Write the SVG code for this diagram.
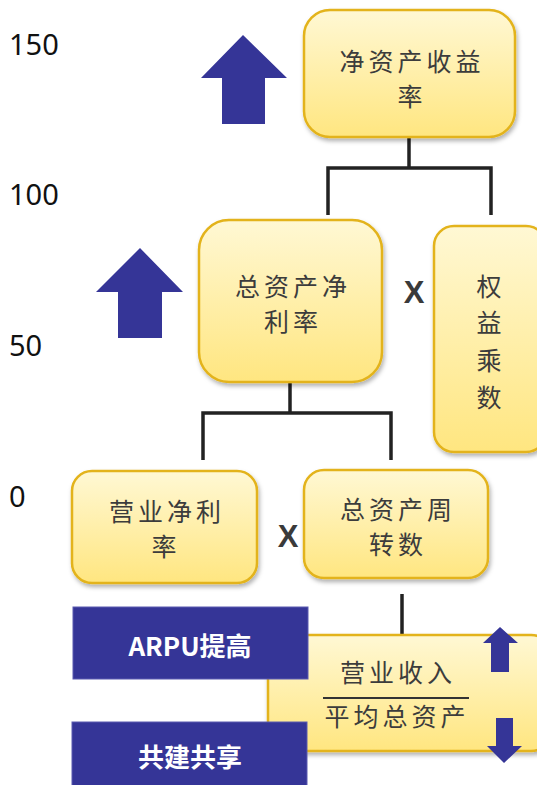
<svg xmlns="http://www.w3.org/2000/svg" width="537" height="785" viewBox="0 0 537 785">
<defs>
<linearGradient id="yg" x1="0" y1="0" x2="0" y2="1">
<stop offset="0" stop-color="#FFF8D4"/>
<stop offset="1" stop-color="#FFE680"/>
</linearGradient>
<filter id="sh" x="-10%" y="-10%" width="125%" height="125%">
<feDropShadow dx="1.5" dy="3" stdDeviation="2" flood-color="#000" flood-opacity="0.3"/>
</filter>
<style>
.node{fill:url(#yg);stroke:#E3B31A;stroke-width:2.5;filter:url(#sh)}
.t{font-family:"Noto Sans CJK SC","Noto Sans",sans-serif;font-size:25px;fill:#3C3C3C;text-anchor:middle;letter-spacing:4px}
.ax{font-family:"Noto Sans","Open Sans",sans-serif;font-size:29px;fill:#111}
.x{font-family:"Liberation Sans",Arial,sans-serif;font-size:31px;font-weight:bold;fill:#3A3A3A;text-anchor:middle}
.blue{fill:#353597;stroke:#5A5AB0;stroke-width:1}
.bt{font-family:"Noto Sans CJK SC","Noto Sans",sans-serif;font-size:26px;font-weight:bold;fill:#fff;text-anchor:middle}
.arr{fill:#353597}
.con{fill:none;stroke:#222;stroke-width:3.5}
</style>
</defs>
<rect width="537" height="785" fill="#fff"/>
<g id="axis">
<text class="ax" x="9" y="55">150</text>
<text class="ax" x="9" y="205">100</text>
<text class="ax" x="9" y="356">50</text>
<text class="ax" x="9" y="507">0</text>
</g>
<g id="connectors">
<polyline class="con" points="409,138 409,168"/>
<polyline class="con" points="328,215 328,168 491,168 491,215"/>
<polyline class="con" points="290,382 290,413"/>
<polyline class="con" points="203,460 203,413 391,413 391,460"/>
<polyline class="con" points="402,594 402,635"/>
</g>
<g id="arrows">
<polygon class="arr" points="243,35 287,78 265,78 265,124 222,124 222,78 201,78"/>
<polygon class="arr" points="140,248 183,292 162,292 162,338 118,338 118,292 96,292"/>
</g>
<g id="n-roe">
<rect class="node" x="304" y="10" width="211" height="127" rx="26"/>
<text class="t" x="412" y="71">净资产收益</text>
<text class="t" x="412" y="106">率</text>
</g>
<g id="n-roa">
<rect class="node" x="199" y="220" width="183" height="162" rx="30"/>
<text class="t" x="293" y="296">总资产净</text>
<text class="t" x="293" y="331">利率</text>
</g>
<text class="x" x="414" y="303">X</text>
<g id="n-em">
<rect class="node" x="434" y="226" width="112" height="226" rx="20"/>
<text class="t" x="489" y="296" style="letter-spacing:0">权</text>
<text class="t" x="489" y="332" style="letter-spacing:0">益</text>
<text class="t" x="489" y="370" style="letter-spacing:0">乘</text>
<text class="t" x="489" y="407" style="letter-spacing:0">数</text>
</g>
<g id="n-npm">
<rect class="node" x="72" y="471" width="185" height="112" rx="20"/>
<text class="t" x="167" y="521">营业净利</text>
<text class="t" x="166" y="556">率</text>
</g>
<text class="x" x="288" y="547">X</text>
<g id="n-tat">
<rect class="node" x="304" y="470" width="184" height="108" rx="20"/>
<text class="t" x="398" y="519">总资产周</text>
<text class="t" x="398" y="554">转数</text>
</g>
<g id="n-frac">
<rect class="node" x="268" y="635" width="285" height="116" rx="22"/>
<text class="t" x="398" y="682">营业收入</text>
<line x1="323" y1="698" x2="469" y2="698" stroke="#333" stroke-width="2"/>
<text class="t" x="397" y="726">平均总资产</text>
<polygon class="arr" points="500,627 518,643 509,643 509,672 491,672 491,643 483,643"/>
<polygon class="arr" points="496,718 513,718 513,746 522,746 504,763 487,746 496,746"/>
</g>
<g id="b-arpu">
<rect class="blue" x="73" y="607" width="235" height="72"/>
<text class="bt" x="190" y="656">ARPU提高</text>
</g>
<g id="b-share">
<rect class="blue" x="72" y="722" width="235" height="70"/>
<text class="bt" x="190" y="767">共建共享</text>
</g>
</svg>
